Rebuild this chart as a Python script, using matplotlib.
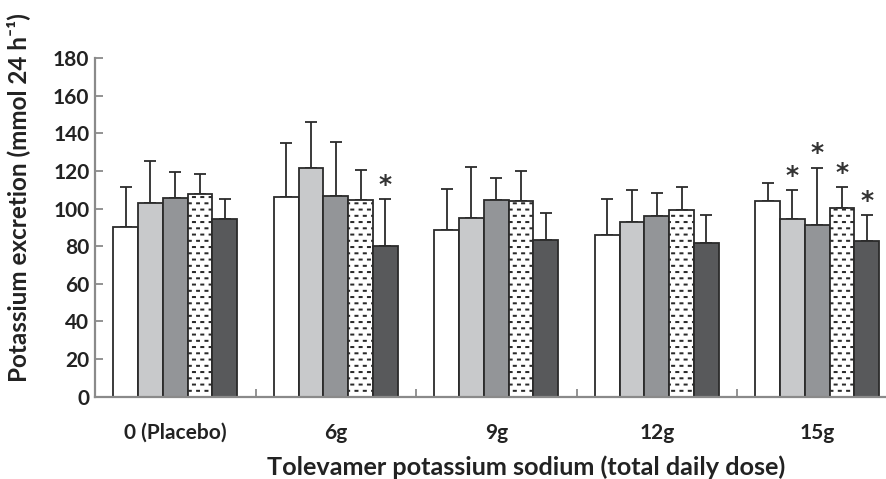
import numpy as np
import matplotlib
matplotlib.use("Agg")
import matplotlib.pyplot as plt
import matplotlib.hatch as mhatch
from matplotlib.path import Path

# ---------------- data ----------------
categories = ["0 (Placebo)", "6g", "9g", "12g", "15g"]
series_names = ["s1", "s2", "s3", "s4", "s5"]
means = [
    [90.4, 106.1, 88.8, 85.8, 104.1],    # white
    [102.7, 121.8, 94.9, 92.9, 94.4],    # light grey
    [105.7, 106.9, 104.5, 96.0, 91.2],   # mid grey
    [107.5, 104.6, 103.9, 99.3, 100.2],  # dotted
    [94.4, 80.0, 83.4, 81.6, 82.7],      # dark grey
]
err_tops = [
    [111.5, 134.8, 110.5, 105.0, 113.8],
    [125.5, 146.0, 122.2, 109.6, 110.0],
    [119.4, 135.6, 116.0, 108.4, 121.8],
    [118.6, 120.7, 120.2, 111.2, 111.2],
    [105.3, 105.0, 97.7, 96.3, 96.6],
]
# significance markers (series index, category index)
stars = [(4, 1), (1, 4), (2, 4), (3, 4), (4, 4)]
yticks = [0, 20, 40, 60, 80, 100, 120, 140, 160, 180]


# ------------- custom staggered-dash hatch (replaces '*') -------------
class DashHatch(mhatch.HatchPatternBase):
    def __init__(self, hatch, density):
        self.on = hatch.count('*') > 0
        self.nx, self.ny = 12, 16
        if self.on:
            n_rects = self.ny * self.nx
            self.num_vertices = n_rects * 5
        else:
            self.num_vertices = 0

    def set_vertices_and_codes(self, vertices, codes):
        cw, rh = 1.0 / self.nx, 1.0 / self.ny
        h = 0.14 * rh
        rects = []
        for r in range(self.ny):
            y0 = (r + 0.4) * rh
            for c in range(self.nx):
                if r % 2 == 0:
                    rects.append((c * cw + 0.1 * cw, c * cw + 0.45 * cw, y0))
                else:
                    rects.append((c * cw + 0.6 * cw, c * cw + 0.95 * cw, y0))
        v, cd = [], []
        for x0, x1, yy in rects:
            v += [(x0, yy), (x1, yy), (x1, yy + h), (x0, yy + h), (x0, yy)]
            cd += [Path.MOVETO, Path.LINETO, Path.LINETO, Path.LINETO,
                   Path.CLOSEPOLY]
        vertices[:] = np.array(v)
        codes[:] = np.array(cd, dtype=Path.code_type)


mhatch._hatch_types = [t for t in mhatch._hatch_types
                       if t.__name__ != "Stars"] + [DashHatch]
plt.rcParams['hatch.linewidth'] = 0.8

# ---------------- figure ----------------
FONT = "Lato"
plt.rcParams['font.family'] = FONT
plt.rcParams['font.weight'] = "bold"
fig = plt.figure(figsize=(8.86, 4.79), dpi=100)
ax = fig.add_axes([95 / 886, 82.3 / 479, 802.5 / 886, 338.7 / 479])

face = ["white", "#c8c9cb", "#939598", "white", "#58595b"]
hatches = [None, None, None, "*", None]
edge = "#2b2b2b"
axis_col = "#8a8a8a"
txt_col = "#222222"
w = 0.1545
x = np.arange(len(categories))

for j in range(5):
    pos = x + (j - 2) * w
    ax.bar(pos, means[j], width=w, color=face[j], edgecolor=edge,
           linewidth=1.3, hatch=hatches[j], zorder=2)
    yerr_up = np.array(err_tops[j]) - np.array(means[j])
    ax.errorbar(pos, means[j], yerr=[np.zeros(5), yerr_up], fmt="none",
                ecolor=edge, elinewidth=1.3, capsize=4.3, capthick=1.3,
                zorder=1)

for j, i in stars:
    ax.annotate("*", xy=(x[i] + (j - 2) * w, err_tops[j][i]),
                xytext=(0, 1.5), textcoords="offset points",
                ha="center", va="bottom", fontsize=18, color="#333333",
                family="DejaVu Sans", fontweight="bold")

ax.set_xlim(-0.5, 4.5)
ax.set_ylim(0, 180)
ax.set_yticks(yticks)
ax.set_yticklabels([str(t) for t in yticks], fontsize=15, fontweight="bold",
                   family=FONT, color=txt_col)
ax.set_xticks(x)
ax.set_xticklabels(categories, fontsize=15, fontweight="bold", family=FONT,
                   color=txt_col)
ax.set_xticks([0.5, 1.5, 2.5, 3.5], minor=True)
ax.tick_params(axis="x", which="major", length=0, pad=19)
ax.tick_params(axis="x", which="minor", direction="in", length=6,
               width=1.3, color=axis_col)
ax.tick_params(axis="y", direction="in", length=6, width=1.3,
               color=axis_col, pad=4)

for s in ["top", "right"]:
    ax.spines[s].set_visible(False)
for s in ["left", "bottom"]:
    ax.spines[s].set_color(axis_col)
    ax.spines[s].set_linewidth(1.6)

fig.text(526 / 886, 1 - 475 / 479, "Tolevamer potassium sodium (total daily dose)",
         ha="center", va="baseline", fontsize=18.2, fontweight="bold",
         family=FONT, color=txt_col)
fig.text(18 / 886, 1 - 198 / 479, "Potassium excretion (mmol 24 h\u207b\u00b9)",
         ha="center", va="center", rotation=90, fontsize=17.5,
         fontweight="bold", family=FONT, color=txt_col)

fig.savefig("out.png", dpi=100)
